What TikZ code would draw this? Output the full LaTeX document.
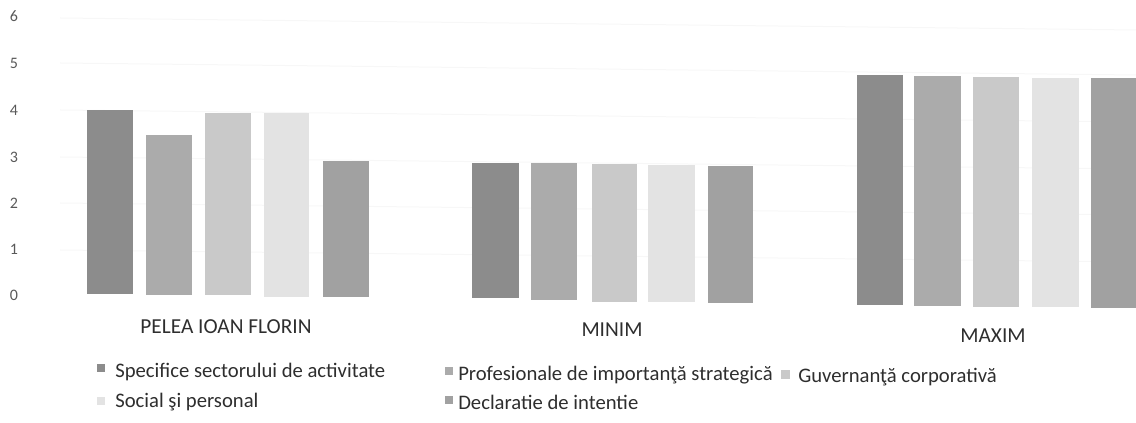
\documentclass[tikz,border=0pt]{standalone}
\usepackage{fontspec}
\setmainfont{Carlito}
\definecolor{barA}{gray}{0.55}
\definecolor{barB}{gray}{0.67}
\definecolor{barC}{gray}{0.79}
\definecolor{barD}{gray}{0.89}
\definecolor{barE}{gray}{0.63}
\tikzset{
	tick/.style={text=black!65, font=\fontsize{12}{14}\selectfont, inner sep=0pt},
	catlabel/.style={text=black!82, font=\fontsize{16}{18}\selectfont, inner sep=0pt},
	legtext/.style={anchor=west, text=black!82, font=\fontsize{15.5}{18}\selectfont, inner sep=0pt},
	gridline/.style={line width=0.75pt, color=black!3}
}

\begin{document}
\begin{tikzpicture}[x=0.75pt, y=-0.75pt]
		%%%%% START %%%%%
		\useasboundingbox (0, 0) rectangle (1136, 423);
		
		% grid and axis numbers
		\draw[gridline] (60, 18) -- (1136, 30);
		\draw[gridline] (60, 63) -- (1136, 75);
		\draw[gridline] (60, 110) -- (1136, 122);
		\draw[gridline] (60, 157) -- (1136, 169);
		\draw[gridline] (60, 203) -- (1136, 215);
		\draw[gridline] (60, 250) -- (1136, 262);
		
		\node[tick] (t6) at (14, 16) {6};
		\node[tick] (t5) at (14, 63) {5};
		\node[tick] (t4) at (14, 110) {4};
		\node[tick] (t3) at (14, 157) {3};
		\node[tick] (t2) at (14, 203) {2};
		\node[tick] (t1) at (14, 249) {1};
		\node[tick] (t0) at (14, 295) {0};
		
		% PELEA IOAN FLORIN
		\draw[fill=barA, draw=none] (87, 110) rectangle (133, 294);
		\draw[fill=barB, draw=none] (146, 135) rectangle (192, 295);
		\draw[fill=barC, draw=none] (205, 113) rectangle (251, 295);
		\draw[fill=barD, draw=none] (264, 113) rectangle (309, 297);
		\draw[fill=barE, draw=none] (323, 161) rectangle (369, 297);
		\node[catlabel] (pelea) at (226, 327) {PELEA IOAN FLORIN};
		
		% MINIM
		\draw[fill=barA, draw=none] (472, 163) rectangle (519, 298);
		\draw[fill=barB, draw=none] (531, 163) rectangle (577, 300);
		\draw[fill=barC, draw=none] (592, 164) rectangle (637, 302);
		\draw[fill=barD, draw=none] (648, 165) rectangle (695, 302);
		\draw[fill=barE, draw=none] (708, 166) rectangle (753, 303);
		\node[catlabel] (minim) at (612, 330) {MINIM};
		
		% MAXIM
		\draw[fill=barA, draw=none] (857, 75) rectangle (903, 305);
		\draw[fill=barB, draw=none] (914, 76) rectangle (961, 306);
		\draw[fill=barC, draw=none] (973, 77) rectangle (1019, 307);
		\draw[fill=barD, draw=none] (1032, 78) rectangle (1079, 307);
		\draw[fill=barE, draw=none] (1091, 78) rectangle (1136, 308);
		\node[catlabel] (maxim) at (993, 336) {MAXIM};
		
		% legend
		\draw[fill=barA, draw=none] (97, 364) rectangle (105, 372);
		\node[legtext] (legA) at (115, 372) {Specifice sectorului de activitate};
		\draw[fill=barB, draw=none] (445, 367) rectangle (453, 375);
		\node[legtext] (legB) at (458, 375) {Profesionale de importanţă strategică};
		\draw[fill=barC, draw=none] (781, 370) rectangle (790, 379);
		\node[legtext] (legC) at (798, 377) {Guvernanţă corporativă};
		\draw[fill=barD, draw=none] (97, 397) rectangle (105, 405);
		\node[legtext] (legD) at (115, 402) {Social şi personal};
		\draw[fill=barE, draw=none] (445, 396) rectangle (453, 404);
		\node[legtext] (legE) at (458, 402) {Declaratie de intentie};
		
		%%%%% END %%%%%
	\end{tikzpicture}
\end{document}
